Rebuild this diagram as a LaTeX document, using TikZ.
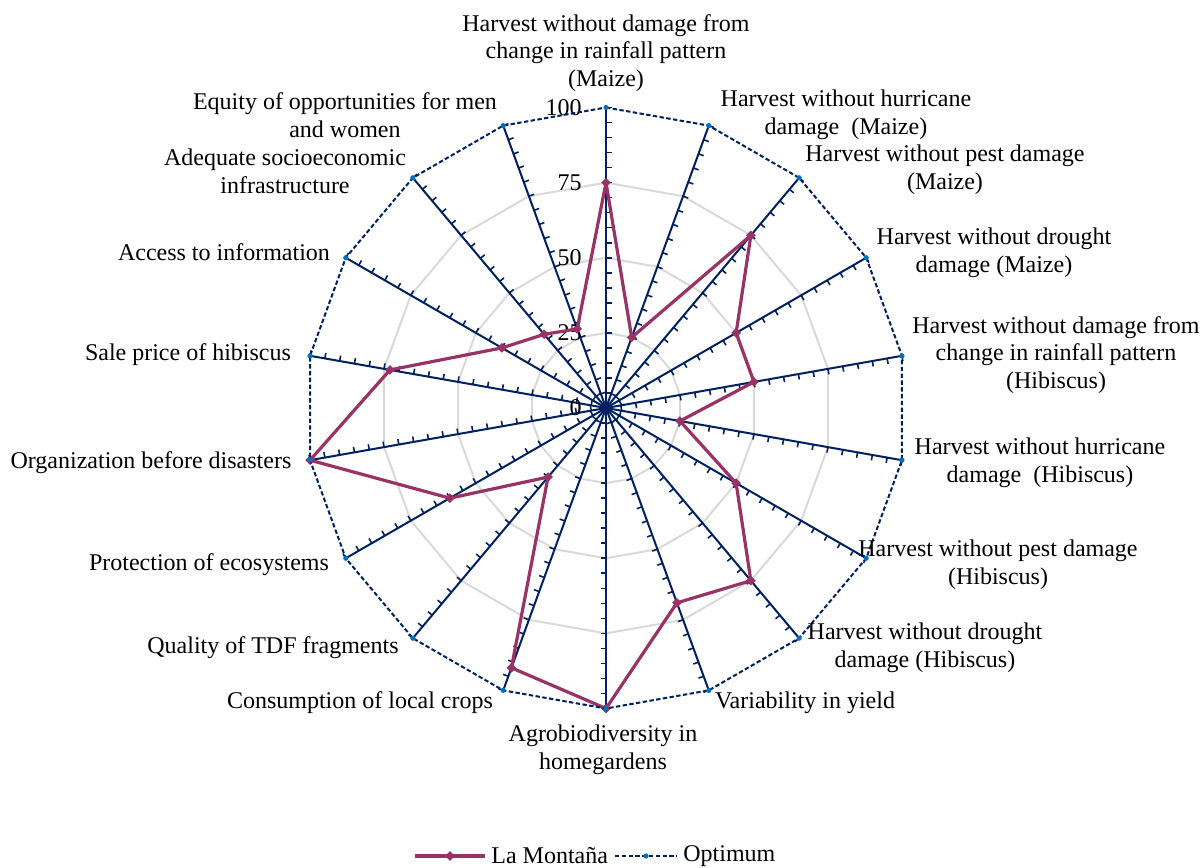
\documentclass[tikz,border=0pt]{standalone}
\usepackage{fontspec}
\setmainfont{Liberation Serif}
\usepackage{tikz}
\usetikzlibrary{positioning, calc}

\definecolor{axisnavy}{RGB}{0,32,96}
\definecolor{plum}{RGB}{153,51,102}
\definecolor{optblue}{RGB}{0,112,192}

\begin{document}
\begin{tikzpicture}[
    x=0.5pt, y=0.5pt,
    axisline/.style={draw=axisnavy, line width=1pt},
    tickmark/.style={draw=axisnavy, line width=0.8pt},
    gridpoly/.style={draw=black!15, line width=1pt},
    montana/.style={draw=plum, line width=1.6pt, line join=round},
    optline/.style={draw=axisnavy, line width=1pt, dash pattern=on 2.2pt off 1.2pt},
    lmmark/.style={rectangle, fill=plum, minimum size=3.4pt, inner sep=0pt, rotate=45},
    optmark/.style={circle, fill=optblue, minimum size=2.6pt, inner sep=0pt},
    catlabel/.style={
        align=center,
        inner sep=0pt,
        font=\fontsize{12}{13.8}\selectfont
    },
    vallabel/.style={anchor=east, inner sep=0pt, font=\fontsize{12}{13.8}\selectfont}
]

\useasboundingbox (-606,-459) rectangle (598,408);

% gridlines
\foreach \g in {25,50,75}
    \draw[gridpoly] (90:{\g*3.005}) \foreach \i in {1,...,17}{ -- ({90-20*\i}:{\g*3.005})} -- cycle;

% axes with minor ticks
\foreach \i in {0,...,17}{
    \pgfmathsetmacro\ang{90-20*\i}
    \draw[axisline] (0,0) -- (\ang:300.5);
    \foreach \t in {0,...,20}
        \draw[tickmark] (\ang:{\t*15.025}) -- ++(\ang-90:5.5);
}

% value labels
\foreach \v in {0,25,50,75,100}
    \node[vallabel] (val\v) at (-24,{\v*3.005}) {\v};

% La Montana
\foreach \v [count=\i from 0] in {75,25,75,50,50,25,50,75,69,100,92,30,60,100,73,40,32,28}
    \coordinate (lm\i) at ({90-20*\i}:{\v*3.005});
\draw[montana] (lm0) \foreach \i in {1,...,17}{ -- (lm\i)} -- cycle;
\foreach \i in {0,...,17}
    \node[lmmark] (lmdot\i) at (lm\i) {};

% Optimum
\foreach \i in {0,...,17}
    \coordinate (op\i) at ({90-20*\i}:300.5);
\draw[optline] (op0) \foreach \i in {1,...,17}{ -- (op\i)} -- cycle;
\foreach \i in {0,...,17}
    \node[optmark] (opdot\i) at (op\i) {};

% category labels
\node[catlabel] (lab0) at (0,355) {Harvest without damage from\\change in rainfall pattern\\(Maize)};
\node[catlabel] (lab1) at (240,293) {Harvest without hurricane\\damage~~(Maize)};
\node[catlabel] (lab2) at (339,238) {Harvest without pest damage\\(Maize)};
\node[catlabel] (lab3) at (388,155) {Harvest without drought\\damage (Maize)};
\node[catlabel] (lab4) at (450,53) {Harvest without damage from\\change in rainfall pattern\\(Hibiscus)};
\node[catlabel] (lab5) at (434,-55) {Harvest without hurricane\\damage~~(Hibiscus)};
\node[catlabel] (lab6) at (392,-157) {Harvest without pest damage\\(Hibiscus)};
\node[catlabel] (lab7) at (319,-240) {Harvest without drought\\damage (Hibiscus)};
\node[catlabel] (lab8) at (199,-295) {Variability in yield};
\node[catlabel] (lab9) at (-3,-342) {Agrobiodiversity in\\homegardens};
\node[catlabel] (lab10) at (-246,-295) {Consumption of local crops};
\node[catlabel] (lab11) at (-333,-240) {Quality of TDF fragments};
\node[catlabel] (lab12) at (-397,-157) {Protection of ecosystems};
\node[catlabel] (lab13) at (-455,-55) {Organization before disasters};
\node[catlabel] (lab14) at (-418,53) {Sale price of hibiscus};
\node[catlabel] (lab15) at (-382,156) {Access to information};
\node[catlabel] (lab16) at (-321,237) {Adequate socioeconomic\\infrastructure};
\node[catlabel] (lab17) at (-261,293) {Equity of opportunities for men\\and women};

% legend
\coordinate (lgm1) at (-191,-448);
\coordinate (lgm2) at (-121,-448);
\draw[montana] (lgm1) -- (lgm2);
\node[lmmark] (lgmdot) at ($(lgm1)!0.5!(lgm2)$) {};
\node[catlabel, right=6 of lgm2] (lgmtext) {La Montaña};

\coordinate (lgo1) at (9,-448);
\coordinate (lgo2) at (71,-448);
\draw[optline] (lgo1) -- (lgo2);
\node[optmark] (lgodot) at ($(lgo1)!0.5!(lgo2)$) {};
\node[catlabel, right=6 of lgo2] (lgotext) {Optimum};

\end{tikzpicture}
\end{document}
